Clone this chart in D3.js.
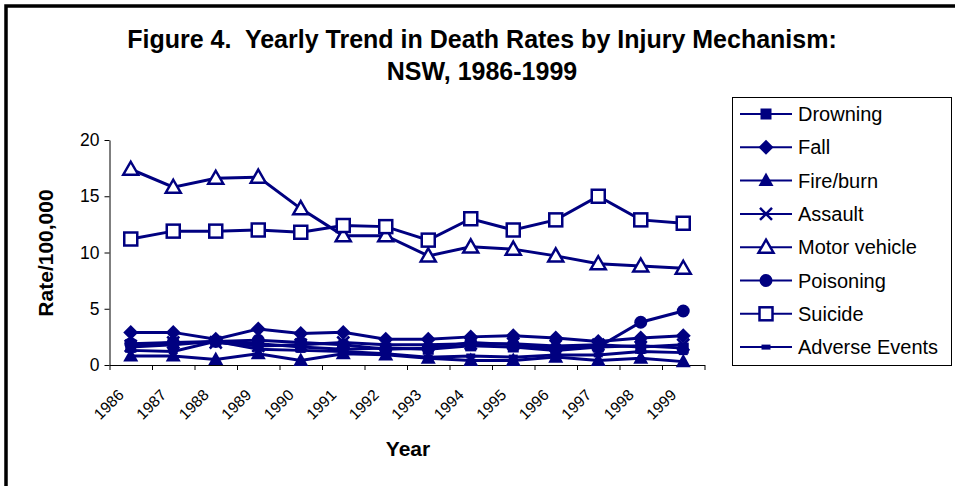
<!DOCTYPE html>
<html>
<head>
<meta charset="utf-8">
<script src="https://cdn.jsdelivr.net/npm/d3@7"></script>
<style>
  body { margin: 0; background: #fff; }
  text { font-family: Arial, "Liberation Sans", sans-serif; }
</style>
</head>
<body>
<div id="chart"></div>
<script>
const width = 955;
const height = 486;
const navy = "#000080";

const years = ["1986","1987","1988","1989","1990","1991","1992","1993","1994","1995","1996","1997","1998","1999"];
const yTicks = [0, 5, 10, 15, 20];

const drowning = [1.6, 1.8, 2.1, 1.9, 1.6, 1.4, 1.5, 1.4, 1.7, 1.6, 1.3, 1.6, 1.7, 1.5];
const fall = [2.9, 2.9, 2.3, 3.2, 2.8, 2.9, 2.3, 2.3, 2.5, 2.6, 2.4, 2.1, 2.4, 2.6];
const fireBurn = [0.8, 0.8, 0.5, 1.0, 0.4, 1.0, 0.9, 0.6, 0.4, 0.4, 0.7, 0.4, 0.6, 0.3];
const assault = [1.7, 2.0, 2.0, 1.7, 1.8, 2.0, 1.8, 1.8, 1.9, 1.9, 1.7, 1.8, 1.6, 1.8];
const motorVehicle = [17.4, 15.8, 16.6, 16.7, 13.9, 11.5, 11.5, 9.7, 10.5, 10.3, 9.7, 9.0, 8.8, 8.6];
const poisoning = [1.9, 2.0, 2.1, 2.2, 2.0, 1.8, 1.4, 1.5, 2.0, 1.8, 1.5, 1.6, 3.8, 4.8];
const suicide = [11.2, 11.9, 11.9, 12.0, 11.8, 12.4, 12.3, 11.1, 13.0, 12.0, 12.9, 15.0, 12.9, 12.6];
const adverse = [1.3, 1.2, 2.1, 1.4, 1.3, 1.2, 1.0, 0.7, 0.8, 0.7, 0.9, 0.9, 1.2, 1.1];

const seriesNames = ["Drowning","Fall","Fire/burn","Assault","Motor vehicle","Poisoning","Suicide","Adverse Events"];
const seriesValues = [drowning, fall, fireBurn, assault, motorVehicle, poisoning, suicide, adverse];
const seriesMarkers = ["square","diamond","triangle","cross","triangleOpen","circle","squareOpen","dash"];

const plot = { left: 109.5, right: 704.5, top: 140, bottom: 365 };

let svg = d3.select("#chart").append("svg")
  .attr("width", width)
  .attr("height", height);

svg.append("rect").attr("width", width).attr("height", height).attr("fill", "#fff");

// outer chart frame (only top and left edges are in view)
svg.append("path")
  .attr("d", "M6," + height + "V6H" + width)
  .attr("fill", "none")
  .attr("stroke", "#000")
  .attr("stroke-width", 3.5);

// title
let title = svg.append("text")
  .attr("text-anchor", "middle")
  .attr("font-weight", "bold")
  .attr("font-size", 25);
title.append("tspan").attr("x", 482).attr("y", 48).style("white-space", "pre")
  .text("Figure 4.  Yearly Trend in Death Rates by Injury Mechanism:");
title.append("tspan").attr("x", 482).attr("y", 80).text("NSW, 1986-1999");

// scales
let xScale = d3.scaleBand()
  .domain(years)
  .range([plot.left, plot.right]);
let xEdge = d3.scaleLinear()
  .domain([0, years.length])
  .range([plot.left, plot.right]);
let yScale = d3.scaleLinear()
  .domain([0, 20])
  .range([plot.bottom, plot.top]);
const cx = function (i) { return xScale(years[i]) + xScale.bandwidth() / 2; };

// y axis
let yAxis = d3.axisLeft(yScale).tickValues(yTicks).tickSize(5).tickPadding(5).tickSizeOuter(0);
let yg = svg.append("g")
  .attr("transform", "translate(" + plot.left + ",0)")
  .call(yAxis);
yg.selectAll("text").attr("font-size", 17.5).attr("fill", "#000").attr("font-family", "Arial, 'Liberation Sans', sans-serif");

// x axis (ticks between categories)
let xAxis = d3.axisBottom(xEdge).tickValues(d3.range(years.length + 1)).tickFormat("").tickSize(5).tickSizeOuter(0);
svg.append("g")
  .attr("transform", "translate(0," + plot.bottom + ")")
  .call(xAxis);
svg.selectAll(".domain, .tick line").attr("stroke", "#000");

svg.append("g").selectAll("text")
  .data(years)
  .enter().append("text")
  .attr("text-anchor", "end")
  .attr("font-size", 15.5)
  .attr("transform", function (d, i) { return "translate(" + (cx(i) - 6) + "," + (plot.bottom + 31) + ") rotate(-45)"; })
  .text(function (d) { return d; });

// axis titles
svg.append("text")
  .attr("x", 408).attr("y", 456)
  .attr("text-anchor", "middle")
  .attr("font-weight", "bold")
  .attr("font-size", 21)
  .text("Year");
svg.append("text")
  .attr("transform", "translate(53,253) rotate(-90)")
  .attr("text-anchor", "middle")
  .attr("font-weight", "bold")
  .attr("font-size", 21)
  .text("Rate/100,000");

// markers
function drawMarker(g, type, x, y) {
  if (type === "square") {
    g.append("rect").attr("x", x - 5.5).attr("y", y - 5.5).attr("width", 11).attr("height", 11).attr("fill", navy);
  } else if (type === "squareOpen") {
    g.append("rect").attr("x", x - 6.5).attr("y", y - 6.5).attr("width", 13).attr("height", 13).attr("fill", "#fff").attr("stroke", navy).attr("stroke-width", 2.5);
  } else if (type === "diamond") {
    g.append("path").attr("d", "M" + x + "," + (y - 7.5) + "L" + (x + 7.5) + "," + y + "L" + x + "," + (y + 7.5) + "L" + (x - 7.5) + "," + y + "Z").attr("fill", navy);
  } else if (type === "triangle") {
    g.append("path").attr("d", "M" + x + "," + (y - 8) + "L" + (x + 7.5) + "," + (y + 5.5) + "L" + (x - 7.5) + "," + (y + 5.5) + "Z").attr("fill", navy);
  } else if (type === "triangleOpen") {
    g.append("path").attr("d", "M" + x + "," + (y - 7.5) + "L" + (x + 7.5) + "," + (y + 5.5) + "L" + (x - 7.5) + "," + (y + 5.5) + "Z").attr("fill", "#fff").attr("stroke", navy).attr("stroke-width", 2.5);
  } else if (type === "circle") {
    g.append("circle").attr("cx", x).attr("cy", y).attr("r", 6.5).attr("fill", navy);
  } else if (type === "cross") {
    g.append("path").attr("d", "M" + (x - 6) + "," + (y - 6) + "L" + (x + 6) + "," + (y + 6) + "M" + (x + 6) + "," + (y - 6) + "L" + (x - 6) + "," + (y + 6)).attr("stroke", navy).attr("stroke-width", 2.5);
  } else if (type === "dash") {
    g.append("rect").attr("x", x - 4.5).attr("y", y - 2.5).attr("width", 9).attr("height", 5).attr("fill", navy);
  }
}

let line = d3.line()
  .x(function (d, i) { return cx(i); })
  .y(function (d) { return yScale(d); });

let seriesG = svg.append("g");
seriesValues.forEach(function (vals, s) {
  let g = seriesG.append("g");
  g.append("path")
    .attr("d", line(vals))
    .attr("fill", "none")
    .attr("stroke", navy)
    .attr("stroke-width", 3);
  vals.forEach(function (v, i) { drawMarker(g, seriesMarkers[s], cx(i), yScale(v)); });
});

// legend
let legend = svg.append("g");
legend.append("rect")
  .attr("x", 732.5).attr("y", 97.5)
  .attr("width", 219).attr("height", 268)
  .attr("fill", "#fff").attr("stroke", "#000");
seriesNames.forEach(function (name, i) {
  let ly = 114 + i * 33.3;
  let g = legend.append("g");
  g.append("line").attr("x1", 740).attr("x2", 792).attr("y1", ly).attr("y2", ly).attr("stroke", navy).attr("stroke-width", 2);
  drawMarker(g, seriesMarkers[i], 766, ly);
  g.append("text").attr("x", 798).attr("y", ly + 7).attr("font-size", 20).text(name);
});
</script>
</body>
</html>
